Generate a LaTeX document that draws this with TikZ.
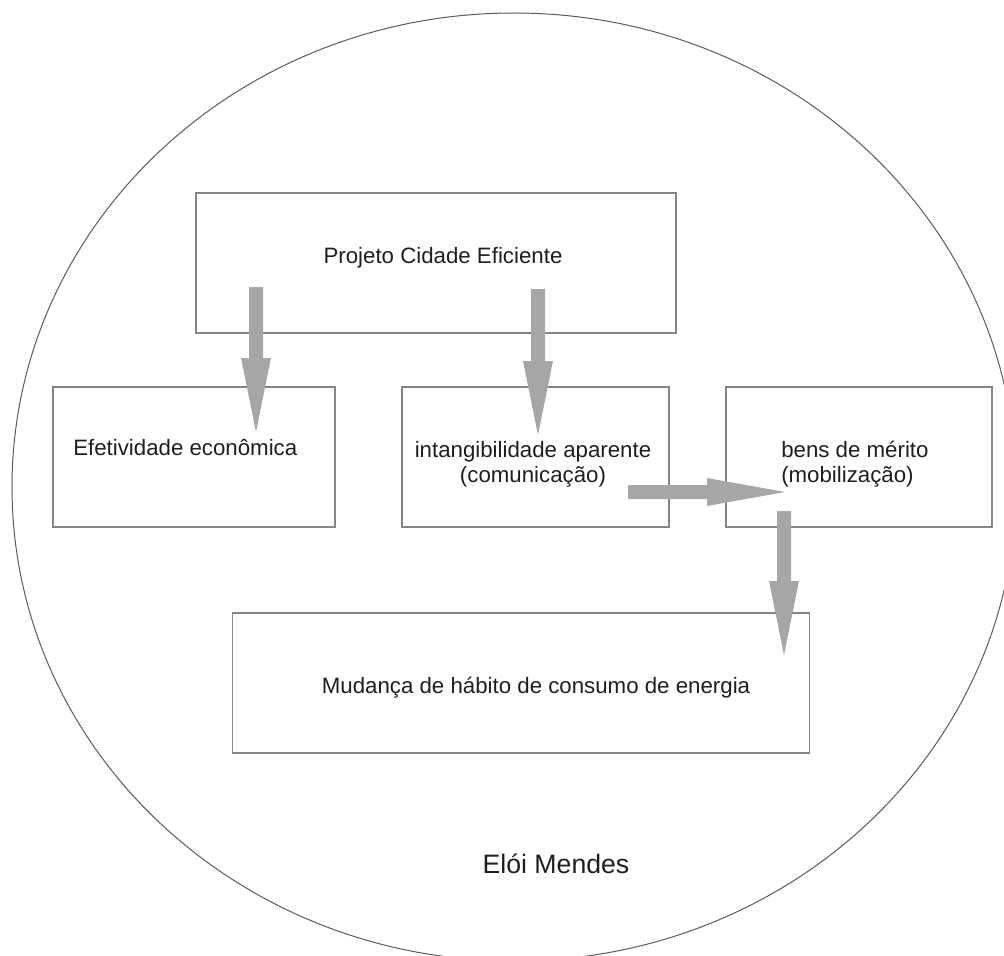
\documentclass[tikz,border=0pt]{standalone}
\usepackage{fontspec}
\setmainfont{Liberation Sans}
\usetikzlibrary{calc}
\definecolor{arrowgray}{HTML}{A6A6A6}
\definecolor{boxgray}{HTML}{858585}
\definecolor{ringgray}{HTML}{5A5A5A}
\definecolor{txt}{HTML}{1E1E1E}
\tikzset{
  box/.style={draw=boxgray, line width=0.9pt, rectangle, inner sep=0pt, minimum height=105pt},
  lbl/.style={text=txt, font=\fontsize{16.7}{18.9}\selectfont, inner sep=0pt, align=center},
  arrowfill/.style={fill=arrowgray, draw=none}
}
\newcommand{\downarr}[2]{%
  \fill[arrowfill] let \p1=(#1), \p2=(#2) in
    (\x1-5.25pt,\y1) -- (\x1+5.25pt,\y1) -- (\x1+5.25pt,\y2+55.5pt) --
    (\x1+11.25pt,\y2+55.5pt) -- (\x2,\y2) -- (\x1-11.25pt,\y2+55.5pt) --
    (\x1-5.25pt,\y2+55.5pt) -- cycle;}
\newcommand{\rightarr}[2]{%
  \fill[arrowfill] let \p1=(#1), \p2=(#2) in
    (\x1,\y1+5.25pt) -- (\x1,\y1-5.25pt) -- (\x2-58.5pt,\y1-5.25pt) --
    (\x2-58.5pt,\y1-10.5pt) -- (\x2,\y2) -- (\x2-58.5pt,\y1+10.5pt) --
    (\x2-58.5pt,\y1+5.25pt) -- cycle;}
\begin{document}
\begin{tikzpicture}[x=0.75pt, y=-0.75pt]
\useasboundingbox (0,0) rectangle (1004,956);
\clip (0,0) rectangle (1004,956);
% outer ellipse
\draw[ringgray, line width=0.75pt] (514,487) ellipse [x radius=502, y radius=474];
% boxes
\node[box, minimum width=360pt] (top) at (436,263) {};
\node[box, minimum width=211.5pt] (left) at (194,457) {};
\node[box, minimum width=200.25pt] (mid) at (535.5,457) {};
\node[box, minimum width=199.5pt] (right) at (859,457) {};
\node[box, minimum width=432.75pt] (bottom) at (521,683) {};
% labels
\node[lbl] (ttop) at (443,258) {Projeto Cidade Eficiente};
\node[lbl, anchor=west] (tleft) at (73,448) {Efetividade econômica};
\node[lbl] (tmid) at (533,464) {intangibilidade aparente\\(comunicação)};
\node[lbl, align=left, anchor=west] (tright) at (781,464) {bens de mérito\\(mobilização)};
\node[lbl] (tbottom) at (536,688) {Mudança de hábito de consumo de energia};
\node[text=txt, font=\fontsize{20}{22}\selectfont, inner sep=0pt] (author) at (556,864) {Elói Mendes};
% arrow endpoints
\coordinate (a1s) at (256,287); \coordinate (a1e) at (256,432);
\coordinate (a2s) at (538,289); \coordinate (a2e) at (538,435);
\coordinate (a3s) at (628,492); \coordinate (a3e) at (785,492);
\coordinate (a4s) at (784,511); \coordinate (a4e) at (784,655);
\downarr{a1s}{a1e}
\downarr{a2s}{a2e}
\rightarr{a3s}{a3e}
\downarr{a4s}{a4e}
\end{tikzpicture}
\end{document}
